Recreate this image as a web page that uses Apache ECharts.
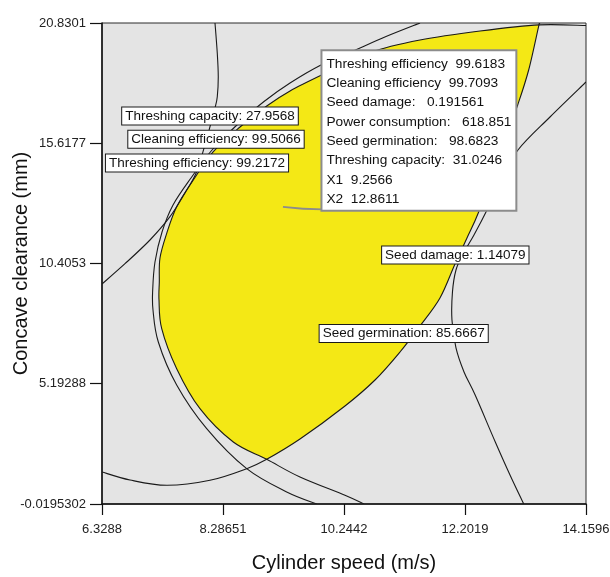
<!DOCTYPE html>
<html>
<head>
<meta charset="utf-8">
<script src="https://cdn.jsdelivr.net/npm/echarts@6/dist/echarts.min.js"></script>
<style>
  html, body { margin: 0; padding: 0; background: #ffffff; }
  #chart { width: 610px; height: 577px; }
</style>
</head>
<body>
<div id="chart"></div>
<script>
// Axis ticks (factor ranges of the design)
const xTicks = [6.3288, 8.28651, 10.2442, 12.2019, 14.1596];
const yTicks = [-0.0195302, 5.19288, 10.4053, 15.6177, 20.8301];

// Contour lines of the overlay plot, [cylinder speed, concave clearance]
const threshingCapacityLine = [
  [8.157, 20.830], [8.194, 19.517], [8.210, 18.502], [8.194, 17.636], [8.157, 17.146],
  [8.076, 16.335], [8.003, 15.629], [7.861, 14.385], [7.672, 13.461], [7.429, 12.434],
  [7.105, 11.424], [6.701, 10.397], [6.329, 9.517]
];
const threshingEfficiencyLine = [
  [11.474, 20.830], [10.924, 20.245], [10.374, 19.595], [9.872, 19.010], [9.371, 18.229],
  [8.950, 17.427], [8.529, 16.452], [8.109, 15.325], [7.769, 14.112], [7.478, 12.941],
  [7.300, 11.771], [7.186, 10.470], [7.149, 9.257], [7.154, 8.390], [7.240, 7.003],
  [7.537, 5.139], [8.023, 3.245], [8.670, 1.511], [9.317, 0.501], [9.802, -0.020]
];
const cleaningEfficiencyLine = [
  [14.160, 20.720], [13.399, 20.750], [12.445, 20.483], [11.474, 20.093], [10.665, 19.551],
  [9.883, 18.576], [9.371, 17.883], [8.994, 17.232], [8.562, 16.322], [8.130, 15.252],
  [7.806, 14.025], [7.537, 12.867], [7.376, 11.714], [7.267, 10.644], [7.256, 9.604],
  [7.251, 8.823], [7.295, 7.579], [7.537, 5.845], [7.914, 4.112], [8.453, 2.668],
  [8.994, 1.918], [9.532, 1.151], [10.260, 0.358], [10.568, -0.020]
];
const seedDamageLine = [
  [14.160, 18.273], [13.577, 16.756], [13.059, 15.325], [12.768, 13.938], [12.558, 12.724],
  [12.347, 11.641], [12.169, 10.817], [12.056, 10.124], [11.999, 9.170], [11.991, 7.956],
  [12.056, 6.743], [12.186, 5.702], [12.368, 4.692], [12.692, 2.668], [12.930, 1.238],
  [13.152, -0.020]
];
const seedGerminationLine = [
  [6.329, 1.368], [6.782, 1.021], [7.376, 0.791], [8.076, 1.008], [8.670, 1.511],
  [8.994, 1.918], [9.532, 2.798], [10.260, 4.229], [10.746, 5.356], [11.150, 6.569],
  [11.474, 7.696], [11.797, 8.910], [12.040, 10.384], [12.234, 11.511], [12.423, 12.638],
  [12.752, 15.022], [13.054, 17.276], [13.232, 18.793], [13.399, 20.750], [13.415, 20.830]
];

// Corners of the sweet spot (shared by the cleaning-efficiency and germination lines)
const sweetSpotTip = [8.994, 1.918];
const sweetSpotTop = [13.399, 20.750];

// Contour labels
const contourNames = ['Threshing capacity', 'Cleaning efficiency', 'Threshing efficiency', 'Seed damage', 'Seed germination'];
const contourValues = ['27.9568', '99.5066', '99.2172', '1.14079', '85.6667'];
const contourLabelAt = [[8.076, 16.799], [8.173, 15.789], [7.866, 14.762], [12.045, 10.774], [11.210, 7.372]];

// Flagged optimum
const flagNames = ['Threshing efficiency', 'Cleaning efficiency', 'Seed damage:', 'Power consumption:',
                   'Seed germination:', 'Threshing capacity:', 'X1', 'X2'];
const flagValues = ['99.6183', '99.7093', '0.191561', '618.851', '98.6823', '31.0246', '9.2566', '12.8611'];
const flagGaps = ['  ', '  ', '   ', '   ', '   ', '  ', '  ', '  '];
const flagPoint = [Number(flagValues[6]), Number(flagValues[7])];

const FONT = 'Liberation Sans, Arial, sans-serif';

function fmt(p) { return p[0].toFixed(2) + ' ' + p[1].toFixed(2); }

// Catmull-Rom spline through pixel points, segments from..to
function splinePath(pts, from, to, withMove) {
  let d = withMove ? 'M' + fmt(pts[from]) : '';
  for (let i = from; i < to; i++) {
    const p0 = pts[Math.max(i - 1, 0)], p1 = pts[i], p2 = pts[i + 1], p3 = pts[Math.min(i + 2, pts.length - 1)];
    const c1 = [p1[0] + (p2[0] - p0[0]) / 6, p1[1] + (p2[1] - p0[1]) / 6];
    const c2 = [p2[0] - (p3[0] - p1[0]) / 6, p2[1] - (p3[1] - p1[1]) / 6];
    d += ' C' + fmt(c1) + ' ' + fmt(c2) + ' ' + fmt(p2);
  }
  return d;
}

function indexOfPoint(line, pt) {
  return line.findIndex(p => p[0] === pt[0] && p[1] === pt[1]);
}

function contourSeries(line) {
  return {
    type: 'custom',
    coordinateSystem: 'cartesian2d',
    clip: true,
    silent: true,
    z: 3,
    data: [line[0]],
    renderItem: function (params, api) {
      const px = line.map(p => api.coord(p));
      return {
        type: 'path',
        shape: { pathData: splinePath(px, 0, px.length - 1, true) },
        style: { fill: 'none', stroke: '#1a1a1a', lineWidth: 1.1 }
      };
    }
  };
}

const sweetSpotSeries = {
  type: 'custom',
  coordinateSystem: 'cartesian2d',
  clip: true,
  silent: true,
  z: 2,
  data: [sweetSpotTip],
  renderItem: function (params, api) {
    const a = cleaningEfficiencyLine.map(p => api.coord(p));
    const b = seedGerminationLine.map(p => api.coord(p));
    const aTop = indexOfPoint(cleaningEfficiencyLine, sweetSpotTop);
    const aTip = indexOfPoint(cleaningEfficiencyLine, sweetSpotTip);
    const bTip = indexOfPoint(seedGerminationLine, sweetSpotTip);
    const bTop = indexOfPoint(seedGerminationLine, sweetSpotTop);
    const d = splinePath(a, aTop, aTip, true) + splinePath(b, bTip, bTop, false) + ' Z';
    return {
      type: 'path',
      shape: { pathData: d },
      style: { fill: '#f4e815', stroke: 'none' }
    };
  }
};

const flagLeaderSeries = {
  type: 'custom',
  coordinateSystem: 'cartesian2d',
  silent: true,
  z: 6,
  data: [flagPoint],
  renderItem: function (params, api) {
    const p = api.coord(flagPoint);
    return {
      type: 'path',
      shape: { pathData: 'M' + fmt(p) + ' Q' + fmt([p[0] + 20, p[1] + 2.5]) + ' ' + fmt([p[0] + 40, p[1] + 2.5]) },
      style: { fill: 'none', stroke: '#8c8c8c', lineWidth: 1.6 }
    };
  }
};

const labelItemStyle = { color: 'rgba(0,0,0,0)', opacity: 1 };

const option = {
  animation: false,
  grid: {
    left: 102, top: 23, width: 484, height: 481,
    containLabel: false,
    outerBoundsMode: 'none',
    show: true, backgroundColor: '#e4e4e4', borderColor: '#2a2a2a', borderWidth: 1
  },
  xAxis: {
    type: 'value',
    min: xTicks[0], max: xTicks[xTicks.length - 1],
    name: 'Cylinder speed (m/s)',
    nameLocation: 'middle',
    nameMoveOverlap: false,
    nameGap: 49,
    nameTextStyle: { fontFamily: FONT, fontSize: 20, color: '#111' },
    axisLine: { show: true, onZero: false, lineStyle: { color: '#111', width: 1.5 } },
    axisTick: { show: true, customValues: xTicks, length: 11, lineStyle: { color: '#111', width: 1.2 } },
    axisLabel: { customValues: xTicks, margin: 19, fontFamily: FONT, fontSize: 13, color: '#222',
                 formatter: v => String(v) },
    splitLine: { show: false }
  },
  yAxis: {
    type: 'value',
    min: yTicks[0], max: yTicks[yTicks.length - 1],
    name: 'Concave clearance (mm)',
    nameLocation: 'middle',
    nameMoveOverlap: false,
    nameRotate: 90,
    nameGap: 71,
    nameTextStyle: { fontFamily: FONT, fontSize: 20, color: '#111' },
    axisLine: { show: true, onZero: false, lineStyle: { color: '#111', width: 1.5 } },
    axisTick: { show: true, customValues: yTicks, length: 12, lineStyle: { color: '#111', width: 1.2 } },
    axisLabel: { customValues: yTicks, margin: 16, fontFamily: FONT, fontSize: 13, color: '#222',
                 formatter: v => String(v) },
    splitLine: { show: false }
  },
  series: [
    sweetSpotSeries,
    contourSeries(threshingCapacityLine),
    contourSeries(threshingEfficiencyLine),
    contourSeries(cleaningEfficiencyLine),
    contourSeries(seedDamageLine),
    contourSeries(seedGerminationLine),
    {
      type: 'scatter',
      silent: true,
      z: 5,
      symbolSize: 1,
      itemStyle: labelItemStyle,
      data: contourLabelAt,
      label: {
        show: true,
        position: 'inside',
        formatter: p => contourNames[p.dataIndex] + ': ' + contourValues[p.dataIndex],
        fontFamily: FONT, fontSize: 13.5, color: '#111',
        backgroundColor: '#ffffff', borderColor: '#1a1a1a', borderWidth: 1,
        padding: [2, 3, 1, 3]
      }
    },
    flagLeaderSeries,
    {
      type: 'scatter',
      silent: true,
      z: 7,
      symbolSize: 1,
      itemStyle: labelItemStyle,
      data: [flagPoint],
      label: {
        show: true,
        position: [40, -155],
        align: 'left',
        verticalAlign: 'top',
        formatter: () => flagNames.map((n, i) => n + flagGaps[i] + flagValues[i]).join('\n'),
        fontFamily: FONT, fontSize: 13.7, lineHeight: 19.3, color: '#111',
        backgroundColor: '#ffffff', borderColor: '#8c8c8c', borderWidth: 2,
        padding: [3, 4, 1, 4]
      }
    }
  ]
};

const chart = echarts.init(document.getElementById('chart'), null, { renderer: 'canvas' });
chart.setOption(option);
</script>
</body>
</html>
